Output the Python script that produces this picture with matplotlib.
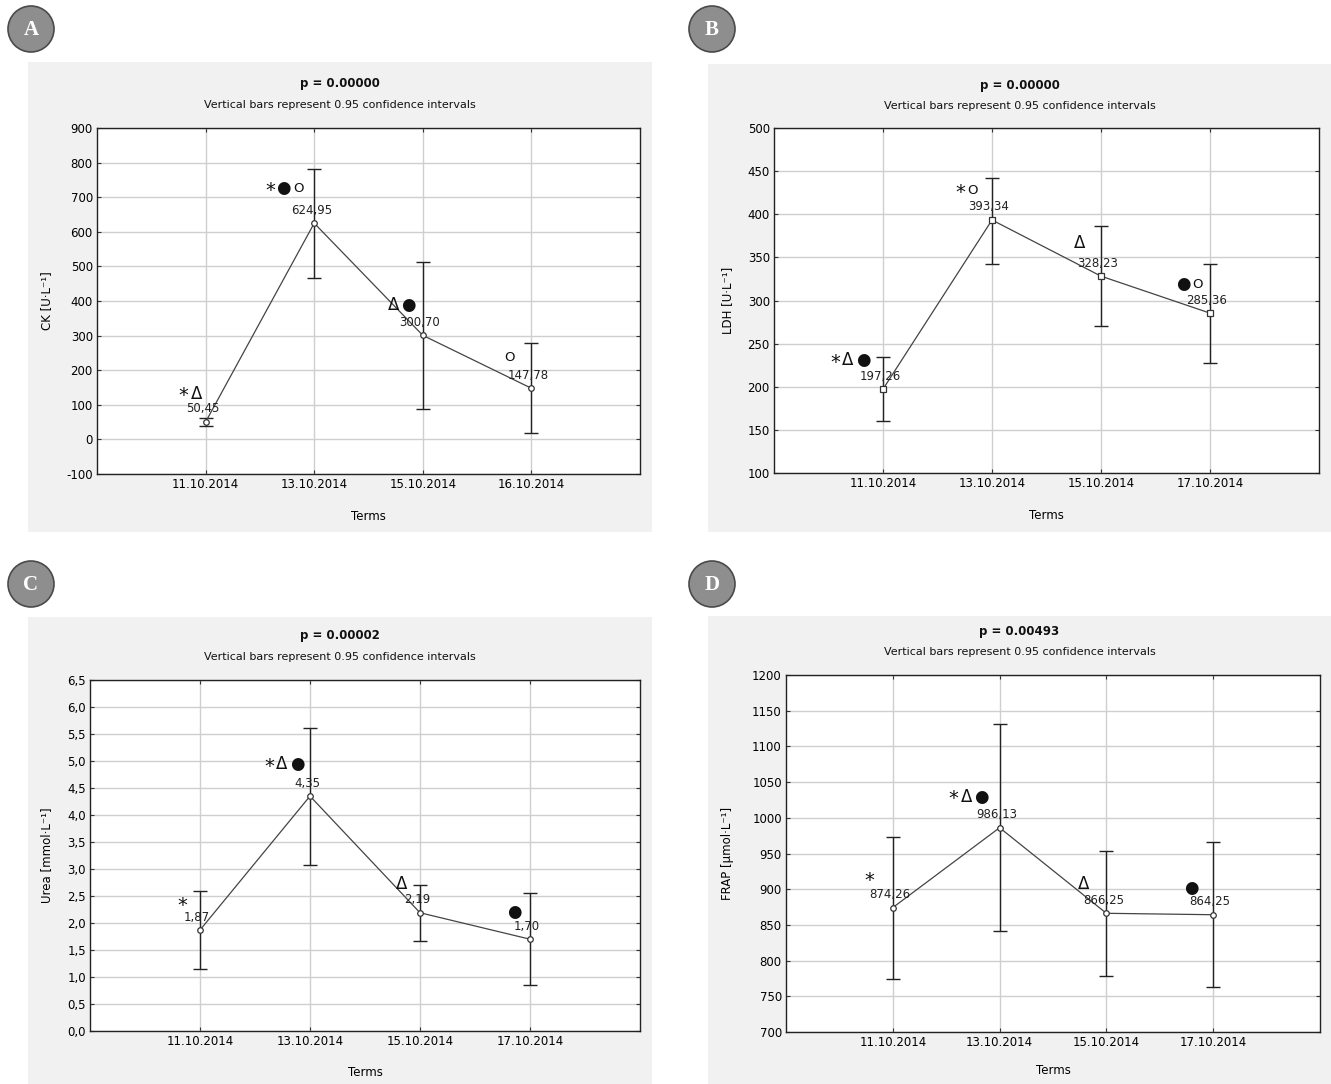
import matplotlib
matplotlib.use("Agg")
import matplotlib.pyplot as plt
from matplotlib.patches import Rectangle, Ellipse
import numpy as np

plt.rcParams['font.family'] = ['DejaVu Sans']

terms_ab = ["11.10.2014", "13.10.2014", "15.10.2014", "16.10.2014"]
terms = ["11.10.2014", "13.10.2014", "15.10.2014", "17.10.2014"]

ck_mean = [50.45, 624.95, 300.70, 147.78]
ck_low = [38, 466, 88, 18]
ck_high = [62, 782, 514, 278]
ck_sym = ["*Δ", "*●O", "Δ●", "O"]

ldh_mean = [197.26, 393.34, 328.23, 285.36]
ldh_low = [160, 342, 270, 228]
ldh_high = [235, 442, 386, 342]
ldh_sym = ["*Δ●", "*O", "Δ", "●O"]

urea_mean = [1.87, 4.35, 2.19, 1.70]
urea_low = [1.15, 3.07, 1.67, 0.85]
urea_high = [2.60, 5.62, 2.70, 2.55]
urea_sym = ["*", "*Δ●", "Δ", "●"]

frap_mean = [874.26, 986.13, 866.25, 864.25]
frap_low = [774, 841, 778, 763]
frap_high = [973, 1131, 953, 966]
frap_sym = ["*", "*Δ●", "Δ", "●"]

W, H = 1331, 1084
fig = plt.figure(figsize=(W / 100, H / 100), dpi=100)
fig.patch.set_facecolor("white")

# glyph style for significance symbols: (fontsize, width px, vertical shift px)
GLYPH = {"*": (14, 11, -2), "Δ": (12, 15, 0), "●": (12, 15, 0), "O": (9.5, 14, 0)}


def fx(px):
    return px / W


def fy(py):
    return 1 - py / H


def fmt_comma(v, dec):
    return f"{v:.{dec}f}".replace(".", ",")


panels = [
    dict(letter="A", circ=(31, 29), bg=(28, 62, 652, 532), ax=(97, 128, 640, 474),
         ptitle="p = 0.00000", ty=(83, 105), xly=516,
         ylabel="CK [U·L⁻¹]", ylx=47, terms=terms_ab,
         mean=ck_mean, lo=ck_low, hi=ck_high, sym=ck_sym,
         symoff=[(-15, 28), (-29, 35), (-22, 30), (-22, 31)],
         ylim=(-100, 900), yticks=np.arange(-100, 901, 100), ydec=0, marker="o"),
    dict(letter="B", circ=(712, 29), bg=(708, 64, 1331, 532), ax=(774, 128, 1319, 473),
         ptitle="p = 0.00000", ty=(85, 106), xly=515,
         ylabel="LDH [U·L⁻¹]", ylx=728, terms=terms,
         mean=ldh_mean, lo=ldh_low, hi=ldh_high, sym=ldh_sym,
         symoff=[(-33, 29), (-25, 29), (-21, 33), (-20, 29)],
         ylim=(100, 500), yticks=np.arange(100, 501, 50), ydec=0, marker="s"),
    dict(letter="C", circ=(31, 584), bg=(28, 617, 652, 1084), ax=(90, 680, 640, 1031),
         ptitle="p = 0.00002", ty=(635, 657), xly=1072,
         ylabel="Urea [mmol·L⁻¹]", ylx=47, terms=terms,
         mean=urea_mean, lo=urea_low, hi=urea_high, sym=urea_sym,
         symoff=[(-18, 27), (-26, 32), (-18, 29), (-16, 27)],
         ylim=(0, 6.5), yticks=np.arange(0, 6.51, 0.5), ydec=1, marker="o"),
    dict(letter="D", circ=(712, 584), bg=(708, 616, 1331, 1084), ax=(786, 675, 1320, 1032),
         ptitle="p = 0.00493", ty=(631, 652), xly=1071,
         ylabel="FRAP [µmol·L⁻¹]", ylx=728, terms=terms,
         mean=frap_mean, lo=frap_low, hi=frap_high, sym=frap_sym,
         symoff=[(-23, 29), (-31, 31), (-23, 29), (-22, 27)],
         ylim=(700, 1200), yticks=np.arange(700, 1201, 50), ydec=0, marker="o"),
]

for p in panels:
    x0, y0, x1, y1 = p["bg"]
    fig.patches.append(Rectangle((fx(x0), fy(y1)), fx(x1 - x0), (y1 - y0) / H,
                                 transform=fig.transFigure, facecolor="#f1f1f1",
                                 edgecolor="none", zorder=-5))
    cx, cy = p["circ"]
    fig.patches.append(Ellipse((fx(cx), fy(cy)), 46 / W, 46 / H, transform=fig.transFigure,
                               facecolor="#8e8e8e", edgecolor="#4a4a4a", lw=1.2, zorder=-4))
    fig.text(fx(cx), fy(cy + 1), p["letter"], ha="center", va="center", color="white",
             fontsize=15, fontweight="bold", family="Liberation Serif")

    cxm = (x0 + x1) / 2
    fig.text(fx(cxm), fy(p["ty"][0]), p["ptitle"], ha="center", va="center",
             fontsize=8.5, fontweight="bold", color="#111111")
    fig.text(fx(cxm), fy(p["ty"][1]), "Vertical bars represent 0.95 confidence intervals",
             ha="center", va="center", fontsize=8, color="#111111")

    l, t, r, b = p["ax"]
    ax = fig.add_axes([fx(l), fy(b), fx(r - l), (b - t) / H])
    ax.set_zorder(2)
    ax.set_facecolor("white")
    xs = np.arange(len(p["terms"]))
    mean = np.array(p["mean"])
    lo = np.array(p["lo"])
    hi = np.array(p["hi"])
    ax.errorbar(xs, mean, yerr=[mean - lo, hi - mean], fmt="none", ecolor="#222222",
                elinewidth=1.0, capsize=5, capthick=1.0, zorder=3)
    ax.plot(xs, mean, color="#444444", lw=0.9, zorder=4)
    ax.plot(xs, mean, linestyle="none", marker=p["marker"], ms=4, mfc="white",
            mec="#333333", mew=0.9, zorder=5)
    for i, (xv, m) in enumerate(zip(xs, mean)):
        ax.annotate(fmt_comma(m, 2), (xv, m), xytext=(-3, 13), textcoords="offset pixels",
                    ha="center", va="center", fontsize=8.5, color="#222222", zorder=6)
        dx, dy = p["symoff"][i]
        chars = list(p["sym"][i])
        total = sum(GLYPH[c][1] for c in chars)
        pos = dx - total / 2
        for c in chars:
            fs, wpx, shift = GLYPH[c]
            ax.annotate(c, (xv, m), xytext=(pos + wpx / 2, dy + shift),
                        textcoords="offset pixels", ha="center", va="center",
                        fontsize=fs, color="#111111", zorder=6)
            pos += wpx
    ax.set_xlim(-1, len(xs))
    ax.set_ylim(*p["ylim"])
    ax.set_xticks(xs)
    ax.set_xticklabels(p["terms"], fontsize=8.5)
    ax.set_yticks(p["yticks"])
    ax.set_yticklabels([fmt_comma(v, p["ydec"]) for v in p["yticks"]], fontsize=8.5)
    ax.grid(True, color="#cfcfcf", lw=1.0)
    ax.set_axisbelow(True)
    for s in ax.spines.values():
        s.set_color("#222222")
        s.set_linewidth(1.0)
    ax.tick_params(direction="out", length=3, width=0.8, color="#333333", pad=3)
    ax.tick_params(axis="y", right=True, direction="in")
    ax.tick_params(axis="x", top=True, direction="in")
    fig.text(fx((l + r) / 2), fy(p["xly"]), "Terms", ha="center", va="center", fontsize=8.5)
    fig.text(fx(p["ylx"]), fy((t + b) / 2), p["ylabel"], ha="center", va="center",
             rotation=90, fontsize=8.5)

fig.savefig("out.png", dpi=100, facecolor="white")
